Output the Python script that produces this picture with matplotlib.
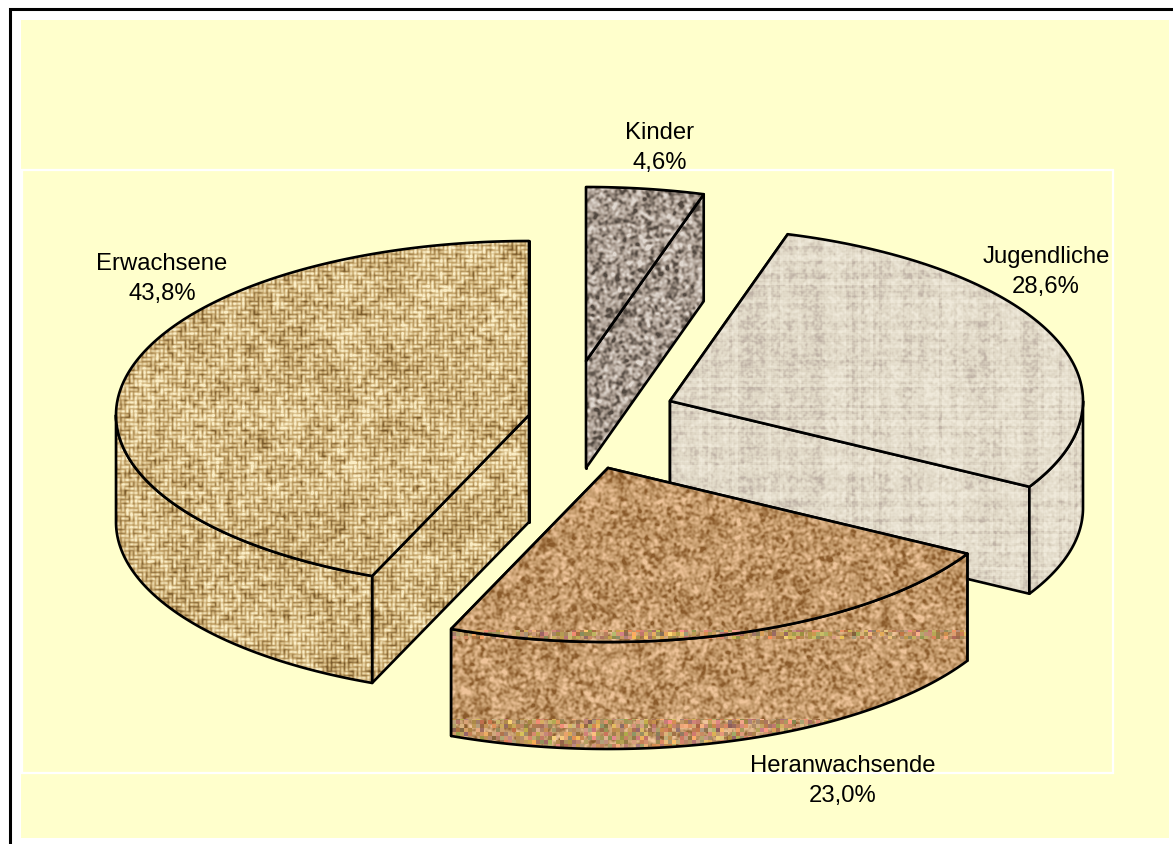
import numpy as np
import matplotlib
matplotlib.use("Agg")
import matplotlib.pyplot as plt
from matplotlib.path import Path
from matplotlib.patches import PathPatch, Rectangle

plt.rcParams['font.family'] = ['Liberation Sans', 'DejaVu Sans']

names = ['Kinder', 'Jugendliche', 'Heranwachsende', 'Erwachsene']
shares = [4.6, 28.6, 23.0, 43.8]

W, H = 1173, 844
RX, RY, DEPTH = 413, 174, 107
# where the tip of each exploded slice sits, in pixels
tips = [(586, 361), (670, 401), (608, 468), (529, 415)]
label_pos = [(660, 148), (1046, 272), (843, 781), (162, 279)]
draw_order = [0, 1, 3, 2]

yy, xx = np.mgrid[0:H, 0:W]


# deterministic hash noise, only for the paper textures
def hash_noise(a, b, seed=0.0):
    v = np.sin(a * 12.9898 + b * 78.233 + seed) * 43758.5453
    return v - np.floor(v)


def blur(a, s):
    fy = np.fft.fftfreq(a.shape[0])[:, None]
    fx = np.fft.rfftfreq(a.shape[1])[None, :]
    g = np.exp(-2 * (np.pi * s) ** 2 * (fx ** 2 + fy ** 2))
    return np.fft.irfft2(np.fft.rfft2(a) * g, s=a.shape)


def norm(a):
    return (a - a.mean()) / a.std()


def colorize(v, dark, mid, light):
    dark, mid, light = [np.array(matplotlib.colors.to_rgb(c)) for c in (dark, mid, light)]
    t = np.clip(v, -1, 1)[..., None]
    return np.where(t < 0, mid + (dark - mid) * -t, mid + (light - mid) * t)


def woven():
    c = 4.3
    i, j = np.floor(xx / c), np.floor(yy / c)
    fx, fy = xx / c - i, yy / c - j
    tri = np.abs((j % 28) - 14)
    over = ((i + tri) % 4) < 2
    thread = np.where(over, np.cos(np.pi * (fx - 0.5)), np.cos(np.pi * (fy - 0.5)))
    edge = np.where(over, np.sin(np.pi * fy), np.sin(np.pi * fx))
    blotch = norm(blur(hash_noise(xx, yy, 1.0), 9))
    grain = norm(blur(hash_noise(xx, yy, 2.0), 1.5))
    v = 1.7 * thread * (0.6 + 0.4 * edge) - 0.75 + 0.1 * blotch + 0.25 * grain
    v = blur(v, 0.5)
    return colorize(v, '#7a5a2a', '#c8a96f', '#fbeec6')


def linen():
    cols = hash_noise(np.floor(xx / 3.0), 0.0, 3.0)
    rows = hash_noise(0.0, np.floor(yy / 3.0), 4.0)
    broad = norm(blur(hash_noise(xx, yy, 5.0), 7))
    fine = norm(blur(hash_noise(xx, yy, 6.0), 1.0))
    v = 0.55 * (cols - 0.5) + 0.55 * (rows - 0.5) + 0.06 * broad + 0.2 * fine + 0.1
    return colorize(v * 1.4, '#bfb2a6', '#dfd7c5', '#efe9da')


def granite():
    v = 0.5 * norm(blur(hash_noise(xx, yy, 7.0), 1.3))
    return colorize(v, '#50473f', '#a89a8e', '#e0d8d0')


def cork():
    v = 0.42 * norm(blur(hash_noise(xx, yy, 8.0), 1.2)) + 0.1 * norm(blur(hash_noise(xx, yy, 9.0), 6))
    tex = colorize(v, '#8a5a2a', '#c39a6b', '#efc49a')
    # the coarse, colourful pixel bands of the source bitmap
    bx, by = np.floor(xx / 4), np.floor(yy / 4)
    r = hash_noise(bx, by, 10.0)
    g = hash_noise(bx, by, 11.0)
    b = hash_noise(bx, by, 12.0)
    shade = hash_noise(bx, by, 13.0)
    bands = np.stack([0.6 + 0.3 * r, 0.4 + 0.25 * g + 0.1 * r, 0.25 + 0.22 * b + 0.05 * r], axis=-1)
    bands = bands * (0.85 + 0.3 * shade)[..., None]
    mask = ((yy > 718) & (yy < 752)) | ((yy > 629) & (yy < 639))
    keep = mask & (hash_noise(bx, by, 14.0) < 0.8)
    return np.clip(np.where(keep[..., None], bands, tex), 0, 1)


textures = [granite(), linen(), cork(), woven()]


def arc(tip, a0, a1, drop=0):
    t = np.radians(np.linspace(a0, a1, max(2, int(abs(a1 - a0) * 2))))
    return np.column_stack([tip[0] + RX * np.sin(t), tip[1] - RY * np.cos(t) + drop])


def face(ax, pts, tex):
    path = Path(np.vstack([pts, pts[:1]]), closed=True)
    im = ax.imshow(tex, extent=(0, W, H, 0), interpolation='nearest', aspect='auto', zorder=ax.zo)
    patch = PathPatch(path, fc='none', ec='black', lw=1.9, joinstyle='round', zorder=ax.zo + 0.5)
    ax.add_patch(patch)
    im.set_clip_path(patch)
    ax.zo += 1


fig = plt.figure(figsize=(W / 100, H / 100), dpi=100, facecolor='white')
ax = fig.add_axes([0, 0, 1, 1])
ax.axis('off')
ax.zo = 5

# frame, panel and white plot-area outline
ax.add_patch(Rectangle((21, 20), 1148, 818, fc='#ffffcc', ec='none', zorder=1))
ax.add_patch(Rectangle((21.5, 170), 1091.5, 603, fc='none', ec='white', lw=1.6, zorder=2))
ax.plot([10, 10, W], [H, 9, 9], color='black', lw=2.2, solid_joinstyle='miter', zorder=3)

# slice angles run clockwise from twelve o'clock
edges = np.concatenate([[0], np.cumsum(shares)]) / np.sum(shares) * 360

for k in draw_order:
    a0, a1 = edges[k], edges[k + 1]
    tip = np.array(tips[k], float)
    tex = textures[k]
    for a in (a0, a1):
        p = arc(tip, a, a, 0)[:1]
        face(ax, np.vstack([tip, p, p + [0, DEPTH], tip + [0, DEPTH]]), tex)
    # outer wall, only the part that faces the viewer
    w0, w1 = max(a0, 90), min(a1, 270)
    if w1 > w0:
        face(ax, np.vstack([arc(tip, w0, w1), arc(tip, w1, w0, DEPTH)]), tex)
    face(ax, np.vstack([tip, arc(tip, a0, a1)]), tex)

for name, share, (x, y) in zip(names, shares, label_pos):
    ax.text(x, y, f"{name}\n{share:.1f}%".replace('.', ','), ha='center', va='center',
            fontsize=17.2, linespacing=1.45, color='black', zorder=100)

ax.set_xlim(0, W)
ax.set_ylim(H, 0)
fig.savefig('out.png', dpi=100)
